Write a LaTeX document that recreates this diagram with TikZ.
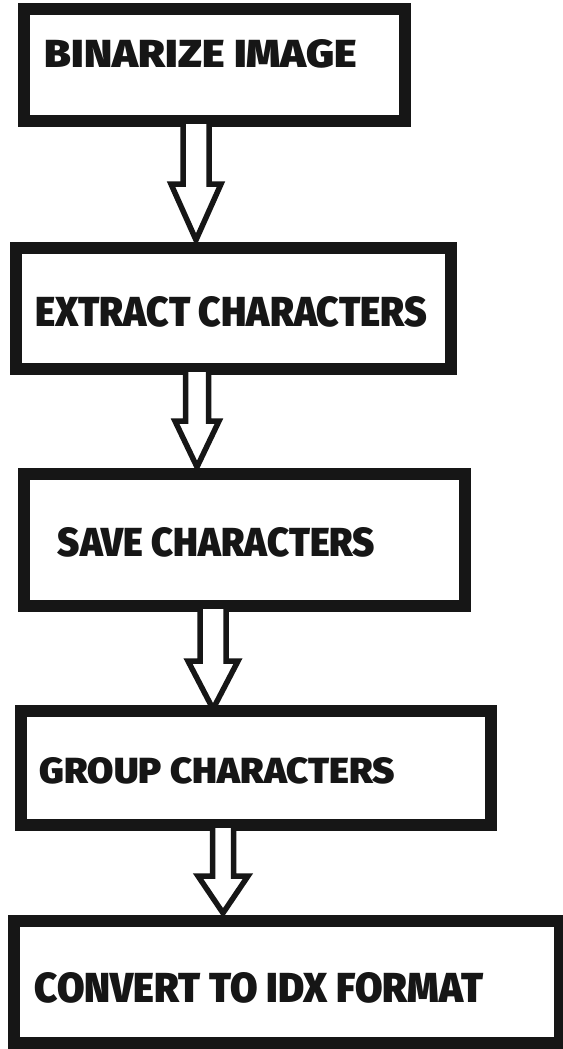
\documentclass[tikz,border=0pt]{standalone}
\usepackage{fontspec}
\setmainfont{Fira Sans}[UprightFont={* Black}, BoldFont={* Black}]
\usetikzlibrary{calc}
\definecolor{ink}{HTML}{161616}
\tikzset{
  stepbox/.style={draw=ink, line width=12pt, rectangle, inner sep=0pt, fill=white},
  steptext/.style={inner sep=0pt, text=ink},
  hollow/.style={draw=ink, line width=5.5pt, line join=miter, fill=white},
}
\newcommand{\fittext}[3]{\resizebox{#1pt}{#2pt}{#3}}
\begin{document}
\begin{tikzpicture}[x=1pt, y=-1pt]
\useasboundingbox (0,0) rectangle (562,1049);
% boxes
\node[stepbox, minimum width=381pt, minimum height=112pt] (b1) at (214.5,65) {};
\node[stepbox, minimum width=435pt, minimum height=121pt] (b2) at (233.5,308.5) {};
\node[stepbox, minimum width=441pt, minimum height=132pt] (b3) at (244.5,540) {};
\node[stepbox, minimum width=470pt, minimum height=114pt] (b4) at (256,768) {};
\node[stepbox, minimum width=546pt, minimum height=122pt] (b5) at (287,982) {};
% texts
\node[steptext] (t1) at (201,54) {\fittext{312}{28}{BINARIZE IMAGE}};
\node[steptext] (t2) at (231,312) {\fittext{392}{30}{EXTRACT CHARACTERS}};
\node[steptext] (t3) at (216.5,542.5) {\fittext{317}{29}{SAVE CHARACTERS}};
\node[steptext] (t4) at (217.5,770.5) {\fittext{355}{26}{GROUP CHARACTERS}};
\node[steptext] (t5) at (259,988) {\fittext{448}{30}{CONVERT TO IDX FORMAT}};
% arrow endpoints
\coordinate (a1s) at (196,124);
\coordinate (a1e) at (196,240);
\coordinate (a2s) at (197,372);
\coordinate (a2e) at (197,467);
\coordinate (a3s) at (213,609);
\coordinate (a3e) at (213,709);
\coordinate (a4s) at (223,828);
\coordinate (a4e) at (223,913);
% hollow block arrows: start, end, half shaft, half head, head length
\foreach \s/\e/\hs/\hh/\hl in {a1s/a1e/13/25/56, a2s/a2e/11.5/22/46, a3s/a3e/13/25/48, a4s/a4e/10.5/25/37}{
  \draw[hollow] let \p1=(\s), \p2=(\e) in
    (\x1-\hs,\y1) -- (\x1-\hs,\y2+\hl) -- (\x1-\hh,\y2+\hl) -- (\x2,\y2)
    -- (\x1+\hh,\y2+\hl) -- (\x1+\hs,\y2+\hl) -- (\x1+\hs,\y1);
}
\end{tikzpicture}
\end{document}
